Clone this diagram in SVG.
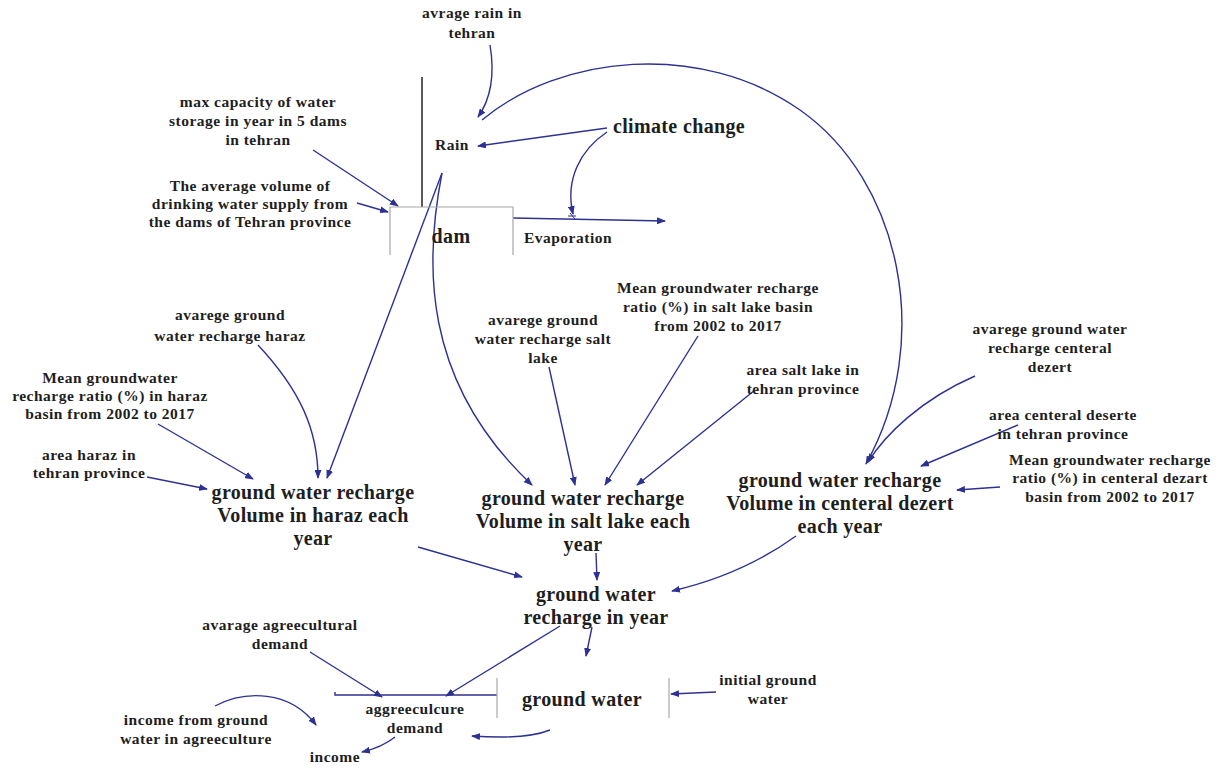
<svg xmlns="http://www.w3.org/2000/svg" width="1223" height="769" viewBox="0 0 1223 769">
<defs>
<marker id="ah" markerWidth="9" markerHeight="7" refX="8" refY="3.5" orient="auto" markerUnits="userSpaceOnUse">
<path d="M0,0 L9,3.5 L0,7 z" fill="#2e3192"/>
</marker>
<style>
text{font-family:"Liberation Serif","Times New Roman",serif;font-weight:bold;fill:#1e1e1e;text-anchor:middle}
.s{font-size:15.5px;letter-spacing:0.5px}
.b{font-size:20px;letter-spacing:0.35px}
.c{fill:none;stroke:#2e3192;stroke-width:1.4}
.a{marker-end:url(#ah)}
.g{fill:none;stroke:#a8a8a8;stroke-width:1.2}
</style>
</defs>
<rect width="1223" height="769" fill="#fff"/>

<g id="connectors">
<line x1="422" y1="77" x2="422" y2="207" stroke="#222" stroke-width="1.5"/>
<path class="c a" d="M513,218 L665,221"/>
<path d="M570,213 L575,219 M568,216 L576,216" stroke="#2e3192" stroke-width="1" fill="none"/>
<path class="c a" d="M607,132 C580,150 565,180 573,214"/>
<path class="c a" d="M607,128 L478,146"/>
<path class="c a" d="M490,45 C495,75 490,100 478,117"/>
<path class="c a" d="M482,120 C560,55 700,40 800,110 C900,180 935,340 866,464"/>
<path class="c a" d="M313,150 L398,206"/>
<path class="c a" d="M357,203 L388,212"/>
<path class="c a" d="M442,173 L327,478"/>
<path class="c a" d="M442,173 C425,260 420,380 532,485"/>
<path class="c a" d="M258,345 C300,390 318,430 318,478"/>
<path class="c a" d="M158,424 L253,479"/>
<path class="c a" d="M147,477 L207,489"/>
<path class="c a" d="M549,367 L575,485"/>
<path class="c a" d="M698,336 L605,485"/>
<path class="c a" d="M755,390 L637,485"/>
<path class="c a" d="M975,376 C920,400 885,435 868,462"/>
<path class="c a" d="M1018,425 L921,466"/>
<path class="c a" d="M1000,487 L957,490"/>
<path class="c a" d="M418,547 L522,577"/>
<path class="c a" d="M596,553 L597,580"/>
<path class="c a" d="M796,536 C760,562 720,580 672,591"/>
<path class="c a" d="M592,627 L586,656"/>
<path class="c a" d="M560,626 L446,696"/>
<path class="c" d="M335,692 L335,695 L497,695"/>
<path class="c a" d="M310,652 L382,697"/>
<path class="c a" d="M716,692 L671,694"/>
<path class="c a" d="M550,730 C530,738 500,738 472,736"/>
<path class="c a" d="M215,706 C245,690 290,690 316,725"/>
<path class="c a" d="M395,737 C385,745 375,749 362,752"/>
</g>

<g id="dam">
<path class="g" d="M390,255 L390,207 L513,207 L513,255"/>
<text class="b" x="451" y="243">dam</text>
</g>
<g id="ground-water">
<path class="g" d="M497,678 L497,718 M669,678 L669,718"/>
<text class="b" x="582" y="706">ground water</text>
</g>

<g id="avrage-rain"><text class="s" x="472" y="18">avrage rain in</text><text class="s" x="472" y="38">tehran</text></g>
<g id="max-capacity"><text class="s" x="258" y="107">max capacity of water</text><text class="s" x="258" y="126">storage in year in 5 dams</text><text class="s" x="258" y="145">in tehran</text></g>
<g id="avg-drinking"><text class="s" x="250" y="191">The average volume of</text><text class="s" x="250" y="209">drinking water supply from</text><text class="s" x="250" y="227">the dams of Tehran province</text></g>
<g id="rain"><text class="s" x="452" y="150">Rain</text></g>
<g id="climate-change"><text class="b" x="679" y="133">climate change</text></g>
<g id="evaporation"><text class="s" x="568" y="243">Evaporation</text></g>

<g id="avg-haraz"><text class="s" x="230" y="320">avarege ground</text><text class="s" x="230" y="341">water recharge haraz</text></g>
<g id="mean-haraz"><text class="s" x="110" y="383">Mean groundwater</text><text class="s" x="110" y="401">recharge ratio (%) in haraz</text><text class="s" x="110" y="419">basin from 2002 to 2017</text></g>
<g id="area-haraz"><text class="s" x="89" y="460">area haraz in</text><text class="s" x="89" y="478">tehran province</text></g>
<g id="recharge-haraz"><text class="b" x="313" y="499">ground water recharge</text><text class="b" x="313" y="522">Volume in haraz each</text><text class="b" x="313" y="545">year</text></g>

<g id="avg-salt"><text class="s" x="543" y="325">avarege ground</text><text class="s" x="543" y="344">water recharge salt</text><text class="s" x="543" y="363">lake</text></g>
<g id="mean-salt"><text class="s" x="718" y="293">Mean groundwater recharge</text><text class="s" x="718" y="312">ratio (%) in salt lake basin</text><text class="s" x="718" y="331">from 2002 to 2017</text></g>
<g id="area-salt"><text class="s" x="803" y="375">area salt lake in</text><text class="s" x="803" y="394">tehran province</text></g>
<g id="recharge-salt"><text class="b" x="583" y="505">ground water recharge</text><text class="b" x="583" y="528">Volume in salt lake each</text><text class="b" x="583" y="551">year</text></g>

<g id="avg-central"><text class="s" x="1050" y="334">avarege ground water</text><text class="s" x="1050" y="353">recharge centeral</text><text class="s" x="1050" y="372">dezert</text></g>
<g id="area-central"><text class="s" x="1063" y="420">area centeral deserte</text><text class="s" x="1063" y="439">in tehran province</text></g>
<g id="mean-central"><text class="s" x="1110" y="465">Mean groundwater recharge</text><text class="s" x="1110" y="483">ratio (%) in centeral dezart</text><text class="s" x="1110" y="502">basin from 2002 to 2017</text></g>
<g id="recharge-central"><text class="b" x="840" y="487">ground water recharge</text><text class="b" x="840" y="510">Volume in centeral dezert</text><text class="b" x="840" y="533">each year</text></g>

<g id="recharge-year"><text class="b" x="596" y="601">ground water</text><text class="b" x="596" y="624">recharge in year</text></g>
<g id="avg-agri"><text class="s" x="280" y="630">avarage agreecultural</text><text class="s" x="280" y="649">demand</text></g>
<g id="initial-gw"><text class="s" x="768" y="685">initial ground</text><text class="s" x="768" y="704">water</text></g>
<g id="agri-demand"><text class="s" x="415" y="714">aggreeculcure</text><text class="s" x="415" y="733">demand</text></g>
<g id="income-from"><text class="s" x="196" y="725">income from ground</text><text class="s" x="196" y="744">water in agreeculture</text></g>
<g id="income"><text class="s" x="335" y="762">income</text></g>
</svg>
